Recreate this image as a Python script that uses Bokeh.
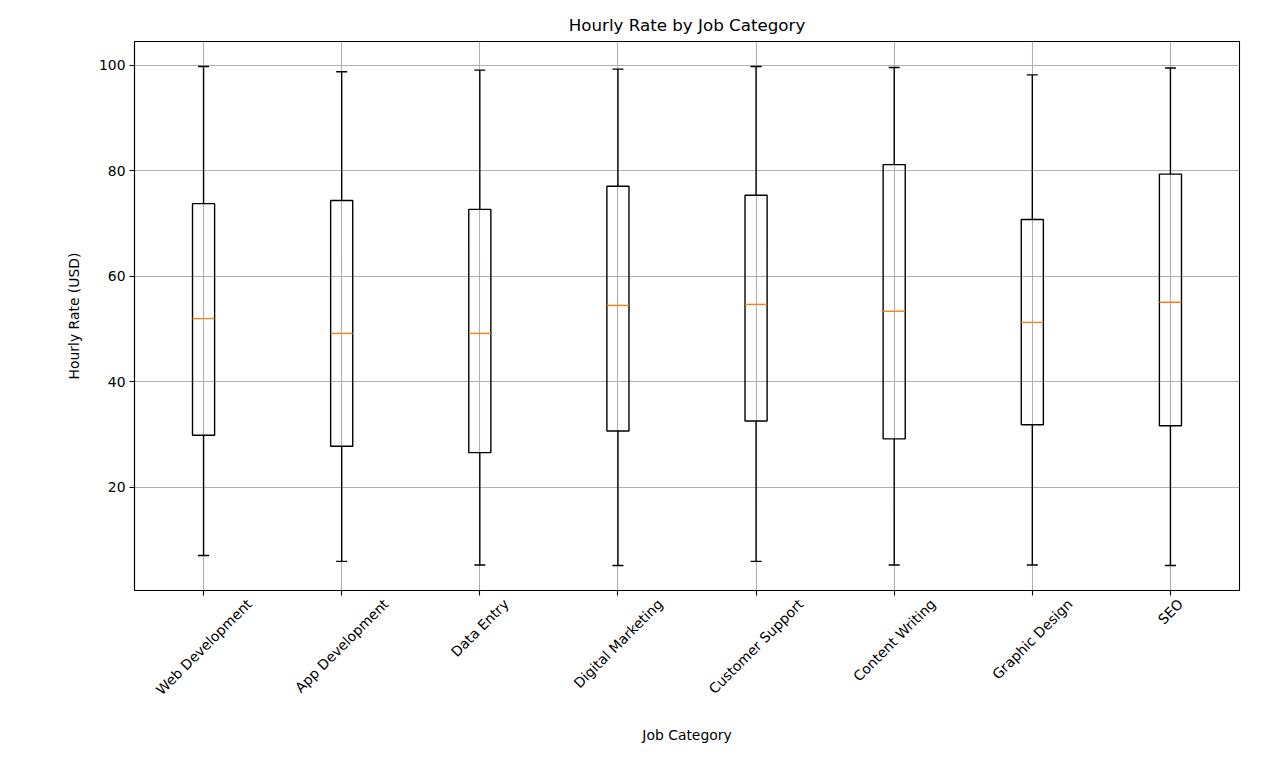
import math
from bokeh.plotting import figure
from bokeh.models import (Range1d, FixedTicker, ColumnDataSource, LinearAxis, CustomJSTickFormatter)
from bokeh.embed import file_html
from bokeh.resources import INLINE

categories = ["Web Development", "App Development", "Data Entry", "Digital Marketing",
              "Customer Support", "Content Writing", "Graphic Design", "SEO"]
whisker_low = [7.1, 6.0, 5.3, 5.2, 6.0, 5.3, 5.3, 5.2]
q1 = [29.9, 27.8, 26.6, 30.7, 32.6, 29.2, 31.9, 31.7]
median = [52.0, 49.2, 49.2, 54.5, 54.7, 53.4, 51.3, 55.1]
q3 = [73.8, 74.4, 72.7, 77.1, 75.4, 81.2, 70.8, 79.4]
whisker_high = [99.8, 98.8, 99.1, 99.3, 99.8, 99.6, 98.2, 99.5]
y_ticks = [20, 40, 60, 80, 100]

FONT = "DejaVu Sans"
TICK_PX = 13.9
BOX_W = 0.16
CAP_W = BOX_W / 2
LW = 1.39

W, H = 1274, 751
BL, BR, BT, BB = 134, 35, 41, 161
FRAME_W = W - BL - BR

n = len(categories)
pos = [i + 0.5 for i in range(n)]  # slot centre of each category
lo, hi = min(whisker_low), max(whisker_high)
pad = 0.05 * (hi - lo)

src = ColumnDataSource(dict(
    x=pos, low=whisker_low, q1=q1, med=median, q3=q3, high=whisker_high,
    bl=[x - BOX_W / 2 for x in pos], br=[x + BOX_W / 2 for x in pos],
    cl=[x - CAP_W / 2 for x in pos], cr=[x + CAP_W / 2 for x in pos],
))

p = figure(width=W, height=H, output_backend="svg", toolbar_location=None,
           x_range=Range1d(0, n), y_range=Range1d(lo - pad, hi + pad),
           title="Hourly Rate by Job Category",
           min_border_left=BL, min_border_right=BR, min_border_top=BT, min_border_bottom=BB)

p.title.text_font = FONT
p.title.text_font_size = "16.7px"
p.title.text_font_style = "normal"
p.title.align = "center"
p.title.standoff = 13
p.title.text_color = "black"

p.outline_line_color = "black"
p.outline_line_width = 1.1
p.background_fill_color = "white"
p.border_fill_color = "white"

p.xaxis.ticker = FixedTicker(ticks=pos)
p.yaxis.ticker = FixedTicker(ticks=y_ticks)
p.xgrid.ticker = FixedTicker(ticks=pos)
p.ygrid.ticker = FixedTicker(ticks=y_ticks)
for g in (p.xgrid, p.ygrid):
    g.grid_line_color = "#b0b0b0"
    g.grid_line_width = 1.1

for ax in (p.xaxis, p.yaxis):
    ax.axis_line_color = "black"
    ax.axis_line_width = 1.1
    ax.major_tick_line_color = "black"
    ax.major_tick_line_width = 1.1
    ax.major_tick_out = 5
    ax.major_tick_in = 0
    ax.minor_tick_line_color = None
    ax.major_label_text_font = FONT
    ax.major_label_text_font_size = f"{TICK_PX}px"
    ax.major_label_text_color = "black"
    ax.axis_label_text_font = FONT
    ax.axis_label_text_font_size = f"{TICK_PX}px"
    ax.axis_label_text_font_style = "normal"
    ax.axis_label_text_color = "black"

p.yaxis.axis_label = "Hourly Rate (USD)"
p.yaxis.axis_label_standoff = 14
p.yaxis.major_label_standoff = 4

# main x axis: tick marks only
p.xaxis.major_label_text_color = None
p.xaxis.major_label_text_font_size = "1px"
p.xaxis.major_label_standoff = 0

# label axis: rotated category names centred under each tick (matplotlib ha='center')
ADV = {" ": 651, "A": 1401, "C": 1430, "D": 1577, "E": 1294, "G": 1595, "M": 1767, "O": 1612,
       "S": 1300, "W": 2025, "a": 1255, "b": 1300, "c": 1126, "e": 1260, "g": 1300, "h": 1298,
       "i": 569, "k": 1186, "l": 569, "m": 1995, "n": 1298, "o": 1253, "p": 1300, "r": 842,
       "s": 1067, "t": 803, "u": 1298, "v": 1212, "y": 1212}
def text_w(s):
    return sum(ADV.get(ch, 1200) for ch in s) / 2048 * TICK_PX
s45 = math.sin(math.pi / 4)
px_per_unit = FRAME_W / n
lab_ticks = [x + text_w(c) * s45 / 2 / px_per_unit for x, c in zip(pos, categories)]

lab_axis = LinearAxis(ticker=FixedTicker(ticks=lab_ticks),
                      formatter=CustomJSTickFormatter(args=dict(labels=categories),
                                                      code="return labels[index];"),
                      major_label_orientation=math.pi / 4,
                      axis_line_color=None, major_tick_line_color=None, minor_tick_line_color=None,
                      major_tick_out=0, major_tick_in=0, major_label_standoff=6,
                      major_label_text_font=FONT, major_label_text_font_size=f"{TICK_PX}px",
                      major_label_text_color="black",
                      axis_label="Job Category", axis_label_standoff=21,
                      axis_label_text_font=FONT, axis_label_text_font_size=f"{TICK_PX}px",
                      axis_label_text_font_style="normal", axis_label_text_color="black")
p.add_layout(lab_axis, "below")

# boxes
p.quad(left="bl", right="br", bottom="q1", top="q3", source=src,
       fill_alpha=0, line_color="black", line_width=LW)
# whiskers
p.segment(x0="x", x1="x", y0="q3", y1="high", source=src, line_color="black", line_width=LW)
p.segment(x0="x", x1="x", y0="q1", y1="low", source=src, line_color="black", line_width=LW)
# caps
p.segment(x0="cl", x1="cr", y0="high", y1="high", source=src, line_color="black", line_width=LW)
p.segment(x0="cl", x1="cr", y0="low", y1="low", source=src, line_color="black", line_width=LW)
# medians
p.segment(x0="bl", x1="br", y0="med", y1="med", source=src, line_color="#ff7f0e", line_width=LW)

open("out.html", "w").write(file_html(p, INLINE))
